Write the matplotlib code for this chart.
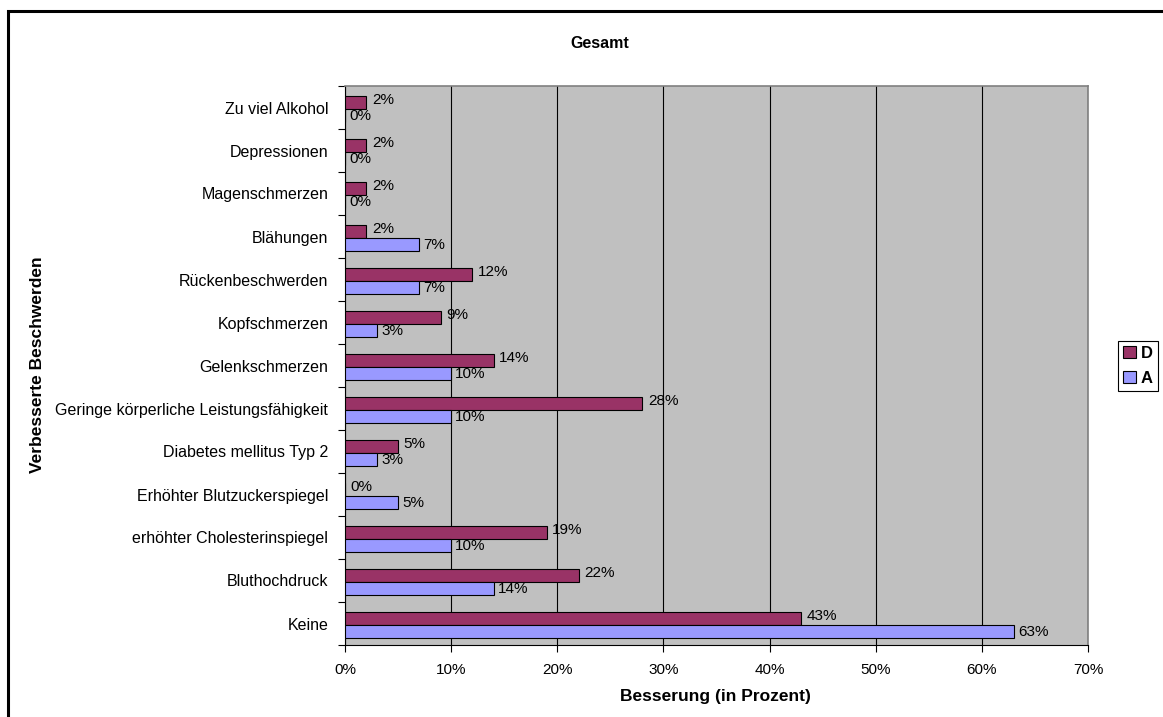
import matplotlib
matplotlib.use("Agg")
import matplotlib.pyplot as plt
from matplotlib.patches import Rectangle, Patch
from matplotlib.ticker import FixedLocator, PercentFormatter

plt.rcParams["font.family"] = ["Liberation Sans", "DejaVu Sans"]

# Kategorien von unten nach oben
categories = [
    "Keine",
    "Bluthochdruck",
    "erhöhter Cholesterinspiegel",
    "Erhöhter Blutzuckerspiegel",
    "Diabetes mellitus Typ 2",
    "Geringe körperliche Leistungsfähigkeit",
    "Gelenkschmerzen",
    "Kopfschmerzen",
    "Rückenbeschwerden",
    "Blähungen",
    "Magenschmerzen",
    "Depressionen",
    "Zu viel Alkohol",
]
werte_d = [43, 22, 19, 0, 5, 28, 14, 9, 12, 2, 2, 2, 2]
werte_a = [63, 14, 10, 5, 3, 10, 10, 3, 7, 7, 0, 0, 0]
x_ticks = [0, 10, 20, 30, 40, 50, 60, 70]

FARBE_D = "#993366"
FARBE_A = "#9999FF"
W, H = 1163, 717
FS = 11
FS_CAT = 11.5
FS_LABEL = 12.5

fig = plt.figure(figsize=(W / 100, H / 100), dpi=100)
ax = fig.add_axes([345 / W, 1 - 645 / H, (1088 - 345) / W, (645 - 86) / H])
ax.set_facecolor("#C0C0C0")

ys = list(range(len(categories)))
bh = 0.3
ax.barh([y + 0.12 for y in ys], werte_d, height=bh, color=FARBE_D,
        edgecolor="black", linewidth=0.8, zorder=3, label="D")
ax.barh([y - 0.18 for y in ys], werte_a, height=bh, color=FARBE_A,
        edgecolor="black", linewidth=0.8, zorder=3, label="A")

for y, d, a in zip(ys, werte_d, werte_a):
    ax.annotate(f"{d}%", (d, y + 0.17), xytext=(4, 0), textcoords="offset points",
                va="center", ha="left", fontsize=FS, zorder=4)
    ax.annotate(f"{a}%", (a, y - 0.2), xytext=(3, 0), textcoords="offset points",
                va="center", ha="left", fontsize=FS, zorder=4)

ax.set_xlim(0, 70)
ax.set_ylim(-0.5, len(categories) - 0.5)
ax.xaxis.set_major_locator(FixedLocator(x_ticks))
ax.xaxis.set_major_formatter(PercentFormatter(decimals=0))
ax.grid(axis="x", color="black", linewidth=0.8, zorder=1)

ax.set_yticks(ys)
ax.set_yticklabels(categories)
ax.yaxis.set_minor_locator(FixedLocator([y - 0.5 for y in ys] + [len(ys) - 0.5]))
ax.tick_params(axis="y", which="major", length=0, pad=12, labelsize=FS_CAT)
ax.tick_params(axis="y", which="minor", length=5, width=0.8, direction="out")
ax.tick_params(axis="x", length=5, width=0.8, direction="out", pad=8, labelsize=FS)

for s in ("top", "right"):
    ax.spines[s].set_color("#808080")
    ax.spines[s].set_linewidth(1.2)
for s in ("left", "bottom"):
    ax.spines[s].set_color("black")
    ax.spines[s].set_linewidth(0.8)

fig.text(600 / W, 1 - 43 / H, "Gesamt", ha="center", va="center",
         fontsize=11.5, fontweight="bold")
fig.text(715 / W, 1 - 697 / H, "Besserung (in Prozent)", ha="center", va="center",
         fontsize=FS_LABEL, fontweight="bold")
fig.text(38 / W, 1 - 365 / H, "Verbesserte Beschwerden", ha="center", va="center",
         rotation=90, fontsize=FS_LABEL, fontweight="bold")

handles = [Patch(facecolor=FARBE_D, edgecolor="black", linewidth=0.8),
           Patch(facecolor=FARBE_A, edgecolor="black", linewidth=0.8)]
leg = fig.legend(handles, ["D", "A"], loc="center",
                 bbox_to_anchor=(1138 / W, 1 - 366 / H),
                 handlelength=0.75, handleheight=0.75, handletextpad=0.3,
                 borderpad=0.3, borderaxespad=0, labelspacing=0.6, fancybox=False,
                 edgecolor="black", framealpha=1, prop={"weight": "bold", "size": 12})
leg.get_frame().set_linewidth(0.8)

# Rahmen um das Diagramm
fig.patches.append(Rectangle((8 / W, -0.1), 1.2, 1 - 11 / H + 0.1, fill=False,
                             edgecolor="black", linewidth=2.2,
                             transform=fig.transFigure, figure=fig))

fig.savefig("out.png", dpi=100)
